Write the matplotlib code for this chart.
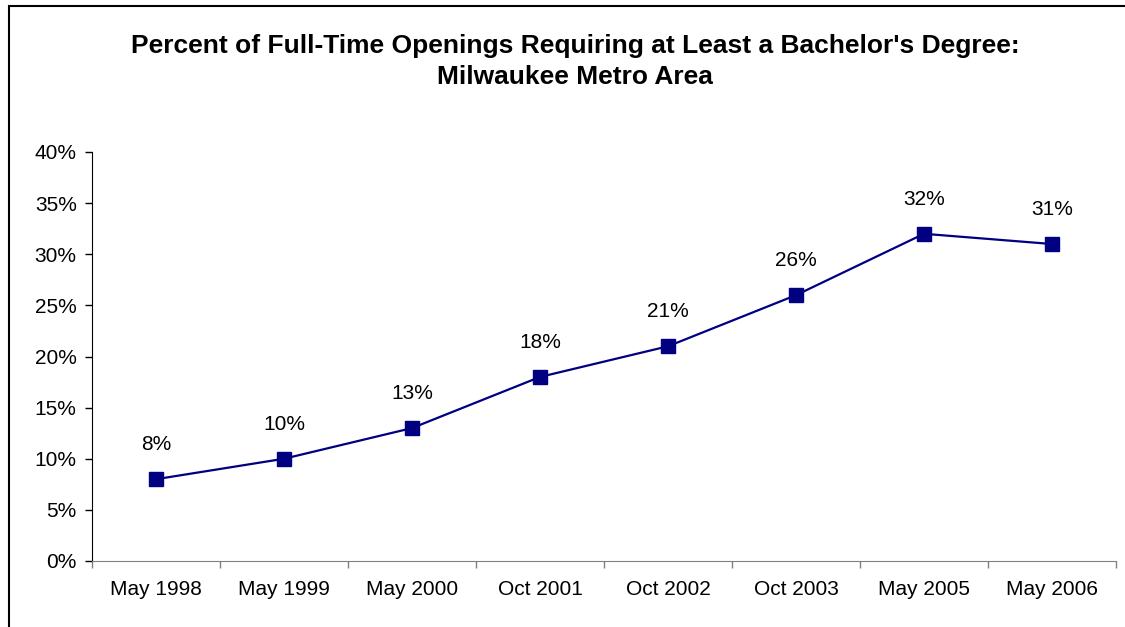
import matplotlib.pyplot as plt
from matplotlib.patches import Rectangle
from matplotlib.ticker import FuncFormatter, FixedLocator

plt.rcParams['font.family'] = ['Liberation Sans', 'DejaVu Sans']

periods = ['May 1998', 'May 1999', 'May 2000', 'Oct 2001',
           'Oct 2002', 'Oct 2003', 'May 2005', 'May 2006']
pct_bachelors = [8, 10, 13, 18, 21, 26, 32, 31]

fig = plt.figure(figsize=(11.25, 6.27), dpi=100)
ax = fig.add_axes([92 / 1125, 66 / 627, 1024 / 1125, 409 / 627])

x = range(len(periods))
ax.plot(x, pct_bachelors, color='#000080', linewidth=1.6,
        marker='s', markersize=10.5, markerfacecolor='#000080',
        markeredgecolor='#000080', zorder=3, clip_on=False)

# value labels above points
for xi, val in zip(x, pct_bachelors):
    ax.annotate(f'{val}%', (xi, val), xytext=(0, 18), textcoords='offset points',
                ha='center', va='bottom', fontsize=15)

ax.set_xlim(-0.5, len(periods) - 0.5)
ax.set_ylim(0, 40)
ax.set_yticks(range(0, 41, 5))
ax.yaxis.set_major_formatter(FuncFormatter(lambda v, p: f'{v:.0f}%'))
ax.set_xticks(list(x))
ax.set_xticklabels(periods)
ax.xaxis.set_minor_locator(FixedLocator([i - 0.5 for i in range(len(periods) + 1)]))
ax.tick_params(axis='x', which='major', length=0, pad=14, labelsize=15)
ax.tick_params(axis='x', which='minor', length=5, width=1, color='#808080', direction='out')
ax.tick_params(axis='y', length=5, width=1, direction='out', labelsize=15, pad=6)

for side in ['top', 'right']:
    ax.spines[side].set_visible(False)
ax.spines['left'].set_color('black')
ax.spines['bottom'].set_color('#808080')

fig.text(575 / 1125, 1 - 46 / 627, "Percent of Full-Time Openings Requiring at Least a Bachelor's Degree:",
         ha='center', va='center', fontsize=19, fontweight='bold')
fig.text(575 / 1125, 1 - 77 / 627, 'Milwaukee Metro Area',
         ha='center', va='center', fontsize=19, fontweight='bold')

# chart-area border
fig.patches.append(Rectangle((9 / 1125, -0.1), 1.2, 1 - 6 / 627 + 0.1,
                             transform=fig.transFigure, fill=False,
                             edgecolor='black', linewidth=1.5))

fig.savefig('out.png', dpi=100, facecolor='white')
